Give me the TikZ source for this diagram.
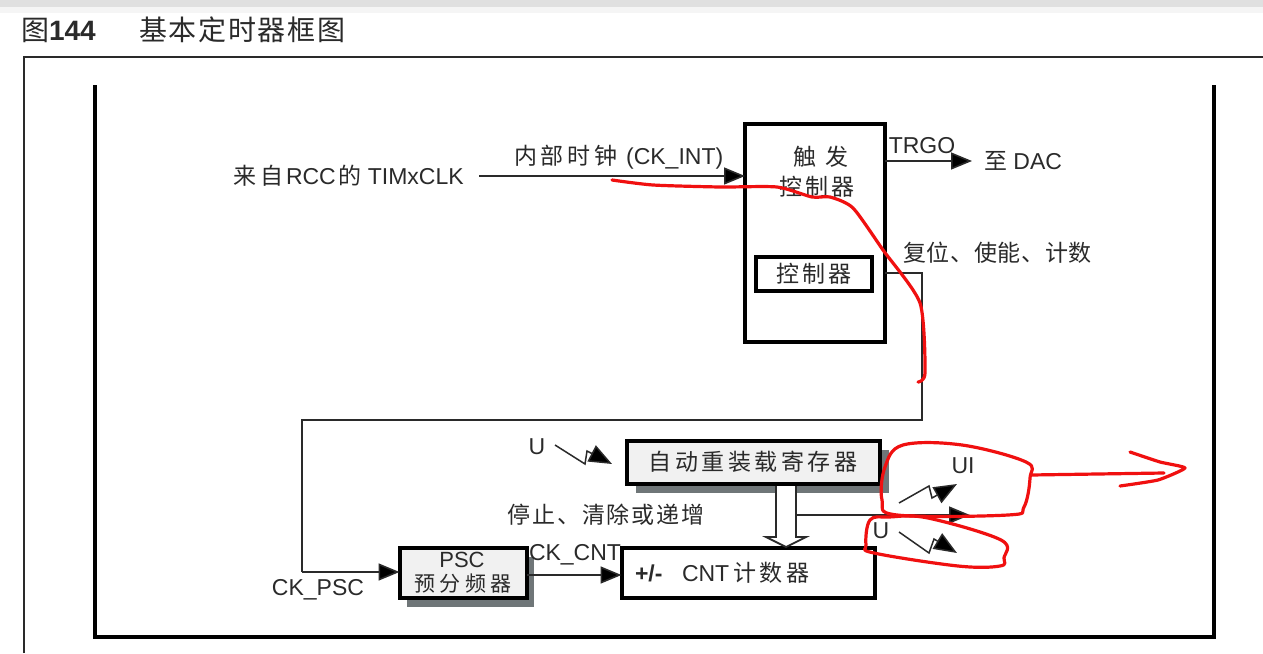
\documentclass[tikz,border=0pt]{standalone}
\usepackage{fontspec}
\usetikzlibrary{arrows.meta,calc}
\setmainfont{Liberation Sans}
\newfontfamily\cjk{Noto Sans CJK SC}
\newcommand{\zh}[2][10]{{\cjk\addfontfeature{LetterSpace=#1}#2}}
\definecolor{ink}{HTML}{2A2A2A}
\definecolor{redpen}{HTML}{F01010}
\definecolor{boxfill}{HTML}{F1F1F1}
\definecolor{shade}{HTML}{6F7678}
\tikzset{
  txt/.style={font=\fontsize{23}{25}\selectfont,text=ink,inner sep=0pt,outer sep=0pt},
  bigtxt/.style={font=\fontsize{28}{30}\selectfont,text=ink,inner sep=0pt,outer sep=0pt},
  thickbox/.style={draw=black,line width=4pt,fill=white,inner sep=0pt,outer sep=0pt},
  greybox/.style={thickbox,fill=boxfill},
  shadowbox/.style={fill=shade,inner sep=0pt,outer sep=0pt},
  wire/.style={draw=ink,line width=1.6pt},
  arrowwire/.style={wire,-{Triangle[length=21pt,width=17pt,fill=black]}},
  bolt/.style={draw=ink,line width=1.5pt,-{Triangle[length=23pt,width=18pt,fill=black]}},
  redstroke/.style={draw=redpen,line width=3.2pt,line cap=round,line join=round}
}
\begin{document}
\begin{tikzpicture}[x=1pt,y=-1pt]
\useasboundingbox (0,0) rectangle (1263,653);
\fill[white] (0,0) rectangle (1263,653);
\fill[black!12] (0,0) rectangle (1263,7);
\fill[black!4] (0,7) rectangle (1263,13);
% title
\node[bigtxt,anchor=west] (figno) at (21,30) {\zh[0]{图}\textbf{144}};
\node[bigtxt,anchor=west] (figtitle) at (139,30) {\zh[6]{基本定时器框图}};
% outer frame
\draw[draw=ink,line width=1.6pt] (24,653) -- (24,57) -- (1263,57);
\draw[draw=black,line width=4pt] (95,85) -- (95,637) -- (1214,637) -- (1214,85);
% boxes
\node[thickbox,minimum width=140pt,minimum height=218pt] (trig) at (815,233) {};
\node[thickbox,line width=3.6pt,minimum width=116pt,minimum height=34pt] (ctrl) at (814,274) {\fontsize{23}{25}\selectfont\color{ink}\zh[11]{控制器}};
\node[txt] (chu) at (821,157) {\zh[0]{触\hspace{10pt}发}};
\node[txt] (kong) at (817,187) {\zh[12]{控制器}};
\node[shadowbox,minimum width=253pt,minimum height=43pt] (arrshadow) at (762,471) {};
\node[greybox,minimum width=253pt,minimum height=43pt] (arr) at (753,462) {};
\node[shadowbox,minimum width=127pt,minimum height=50pt] (pscshadow) at (470,582) {};
\node[greybox,minimum width=127pt,minimum height=50pt] (psc) at (463,573) {};
\node[thickbox,minimum width=253pt,minimum height=50pt] (cnt) at (748,573) {};
\node[txt] (arrtxt) at (753,462) {\zh[15]{自动重装载寄存器}};
\node[txt,font=\fontsize{22}{24}\selectfont] (psctxt) at (462,560) {PSC};
\node[font=\fontsize{21}{23}\selectfont,text=ink,inner sep=0pt] (psczh) at (463,583.5) {\zh[20]{预分频器}};
\node[txt,anchor=west] (pm) at (635,573) {\textbf{+/-}};
\node[txt,anchor=west] (cnttxt) at (682,573) {CNT\,\zh[17]{计数器}};
% labels
\node[txt,anchor=west] (src) at (233,176) {\zh[0]{来}\hspace{5pt}\zh[0]{自}\hspace{2pt}RCC\hspace{3pt}\zh[0]{的}\hspace{6pt}TIMxCLK};
\node[txt,anchor=west] (int) at (514,157) {\zh[17]{内部时钟}\hspace{2pt} (CK\_INT)};
\node[txt] (trgo) at (922,146) {TRGO};
\node[txt,anchor=west] (dac) at (984,161) {\zh[0]{至} DAC};
\node[txt,anchor=west] (rst) at (903,253) {\zh[3]{复位、使能、计数}};
\node[txt] (stop) at (606,515) {\zh[8]{停止、清除或递增}};
\node[txt] (ckcnt) at (575,555) {CK\_CNT};
\node[txt] (ckpsc) at (318,590) {CK\_PSC};
\node[txt] (utop) at (537,447) {U};
\node[txt] (ui) at (963,466) {UI};
\node[txt] (ulow) at (881,531) {U};
% connector ends
\coordinate (clkstart) at (479,176);
\coordinate (dacend) at (972,161);
\coordinate (riserTop) at (922,273);
\coordinate (riserBot) at (922,420);
\coordinate (backLeft) at (302,420);
\coordinate (backDown) at (302,572);
\coordinate (ckcntStart) at (527,575);
\coordinate (branchEnd) at (970,515);
\coordinate (branchStart) at (796,515);
% connectors
\draw[arrowwire] (clkstart) -- (clkstart -| trig.west);
\draw[arrowwire] (trig.east |- dacend) -- (dacend);
\draw[wire] (trig.east |- riserTop) -- (riserTop) -- (riserBot) -- (backLeft) -- (backDown);
\draw[arrowwire] (backDown) -- (backDown -| psc.west);
\draw[arrowwire] (ckcntStart) -- (ckcntStart -| cnt.west);
\draw[arrowwire] (branchStart) -- (branchEnd);
% hollow arrow
\draw[draw=ink,line width=1.8pt,fill=white,line join=miter]
  (776,486) -- (776,537) -- (766,537) -- (786,547) -- (806,537) -- (796,537) -- (796,486);
% bolts
\draw[bolt] (555,445) -- (585,464) -- (587,451) -- (612,464);
\draw[bolt] (899,503) -- (929,486) -- (932,498) -- (957,484);
\draw[bolt] (899,532) -- (929,553) -- (934,539) -- (957,553);
% red annotations
\draw[redstroke] plot[smooth,tension=0.4] coordinates {(612,180) (653,185) (720,187) (777,187) (812,197) (830,197) (853,208) (883,250) (920,303) (925,373) (918,382)};
\draw[redstroke] plot[smooth cycle,tension=0.6] coordinates {(903,445) (962,445) (1026,462) (1030,478) (1024,507) (1008,515) (897,515) (882,500) (885,467)};
\draw[redstroke] (1031,475) -- (1164,473);
\draw[redstroke] plot[smooth,tension=0.3] coordinates {(1130,452) (1160,462) (1185,468) (1158,480) (1120,486)};
\draw[redstroke] plot[smooth cycle,tension=0.6] coordinates {(870,520) (889,517) (928,518) (1001,540) (1004,558) (1000,566) (958,566) (874,553) (866,545)};
\end{tikzpicture}
\end{document}
